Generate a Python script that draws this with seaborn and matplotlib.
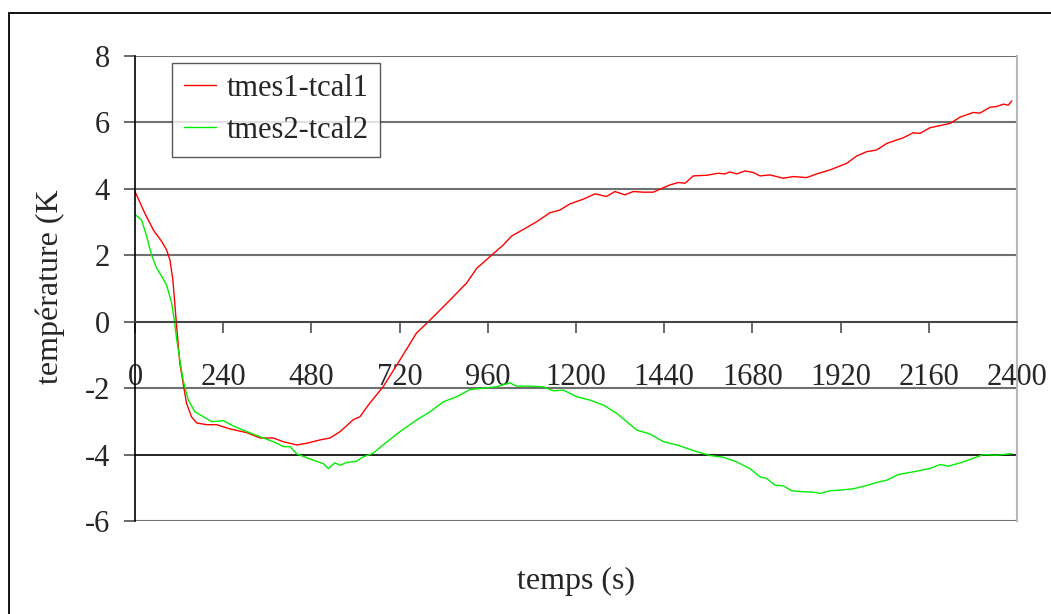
import numpy as np
import pandas as pd
import seaborn as sns
import matplotlib.pyplot as plt
from matplotlib.patches import Rectangle

# temps (s) / ecart de temperature (K), relus sur la figure
t1 = [0, 27, 50, 73, 86, 95, 103, 109, 113, 122, 131, 140, 154, 168, 195, 222, 259, 304,
      340, 376, 403, 440, 467, 503, 531, 558, 594, 612, 639, 675, 721, 766, 803, 857,
      902, 930, 966, 1002, 1025, 1057, 1093, 1129, 1156, 1184, 1220, 1252, 1283, 1306,
      1333, 1356, 1383, 1410, 1433, 1456, 1478, 1497, 1519, 1556, 1587, 1605, 1619,
      1637, 1660, 1683, 1701, 1728, 1764, 1791, 1828, 1855, 1891, 1937, 1964, 1991,
      2018, 2046, 2091, 2118, 2136, 2163, 2218, 2245, 2281, 2299, 2327, 2345, 2363,
      2376, 2386]
tmes1_tcal1 = [3.92, 3.26, 2.76, 2.41, 2.16, 1.86, 1.26, 0.45, -0.1, -1.25, -1.85, -2.45,
               -2.87, -3.05, -3.1, -3.1, -3.23, -3.34, -3.5, -3.5, -3.61, -3.71, -3.66,
               -3.56, -3.5, -3.31, -2.95, -2.86, -2.45, -1.96, -1.15, -0.34, 0.05, 0.65,
               1.16, 1.61, 1.96, 2.31, 2.58, 2.78, 3.01, 3.28, 3.36, 3.55, 3.69, 3.85,
               3.77, 3.92, 3.82, 3.92, 3.9, 3.9, 4.01, 4.12, 4.19, 4.17, 4.39, 4.41, 4.47,
               4.45, 4.51, 4.45, 4.54, 4.49, 4.39, 4.42, 4.32, 4.37, 4.34, 4.45, 4.57,
               4.77, 4.99, 5.12, 5.17, 5.37, 5.54, 5.69, 5.67, 5.84, 5.97, 6.16, 6.3,
               6.28, 6.46, 6.48, 6.55, 6.52, 6.65]

t2 = [0, 18, 32, 45, 59, 73, 86, 100, 107, 113, 122, 131, 145, 163, 186, 209, 240, 268,
      304, 340, 376, 404, 422, 440, 485, 512, 526, 544, 558, 576, 603, 621, 648, 675,
      721, 766, 803, 839, 875, 912, 948, 984, 1020, 1038, 1075, 1111, 1138, 1166, 1202,
      1238, 1275, 1311, 1365, 1401, 1438, 1474, 1528, 1565, 1601, 1637, 1673, 1701,
      1719, 1741, 1764, 1787, 1819, 1846, 1864, 1891, 1918, 1955, 1991, 2018, 2046,
      2077, 2118, 2163, 2191, 2213, 2245, 2272, 2308, 2345, 2386]
tmes2_tcal2 = [3.23, 3.06, 2.56, 2.01, 1.61, 1.36, 1.1, 0.55, 0.05, -0.5, -1.15, -1.76,
               -2.36, -2.71, -2.86, -3.01, -2.98, -3.14, -3.31, -3.46, -3.61, -3.76,
               -3.76, -3.98, -4.17, -4.27, -4.42, -4.25, -4.32, -4.24, -4.2, -4.07, -3.96,
               -3.71, -3.31, -2.96, -2.71, -2.41, -2.26, -2.04, -2.0, -1.96, -1.84, -1.94,
               -1.94, -1.96, -2.08, -2.06, -2.26, -2.36, -2.51, -2.76, -3.26, -3.38,
               -3.61, -3.71, -3.91, -4.03, -4.08, -4.22, -4.42, -4.67, -4.72, -4.92,
               -4.94, -5.09, -5.12, -5.13, -5.17, -5.09, -5.07, -5.03, -4.93, -4.84,
               -4.77, -4.6, -4.52, -4.42, -4.3, -4.35, -4.25, -4.15, -4.0, -4.02, -3.97]

x_ticks = list(range(0, 2401, 240))
y_ticks = list(range(-6, 9, 2))

sns.set_style("white")
plt.rcParams['font.family'] = ['Liberation Serif', 'DejaVu Serif']
plt.rcParams['axes.unicode_minus'] = False

fig = plt.figure(figsize=(10.51, 6.14), dpi=100)
ax = fig.add_axes([135 / 1051, 1 - 521 / 614, 882 / 1051, 465 / 614])

df1 = pd.DataFrame({'t': t1, 'v': tmes1_tcal1})
df2 = pd.DataFrame({'t': t2, 'v': tmes2_tcal2})
sns.lineplot(ax=ax, data=df1, x='t', y='v', color='#ff0000', lw=1.0, label='tmes1-tcal1')
sns.lineplot(ax=ax, data=df2, x='t', y='v', color='#00ee00', lw=1.0, label='tmes2-tcal2')

ax.set_xlim(0, 2400)
ax.set_ylim(-6, 8)
ax.set_xticks(x_ticks)
ax.set_yticks(y_ticks)
ax.set_xlabel('')
ax.set_ylabel('')

# axe des x a y=0, a la Excel
ax.spines['bottom'].set_position(('data', 0))
ax.spines['bottom'].set_color('#404040')
ax.spines['bottom'].set_linewidth(1.3)
ax.spines['left'].set_color('black')
ax.spines['left'].set_linewidth(1.2)
ax.spines['right'].set_color('#b8b8b8')
ax.spines['right'].set_linewidth(1.5)
ax.spines['top'].set_visible(False)

ax.yaxis.grid(True, color='#707070', lw=1.5)
for y, gl in zip(y_ticks, ax.get_ygridlines()):
    if y == -4:
        gl.set_color('black')
        gl.set_linewidth(1.2)

ax.tick_params(axis='x', direction='out', length=8, width=1.2, color='#505050',
               pad=22, labelsize=22)
ax.tick_params(axis='y', direction='out', length=8, width=1.2, color='#505050',
               pad=10, labelsize=22, left=True)
ax.tick_params(axis='x', bottom=True)

ax.legend(loc='upper left', bbox_to_anchor=(0.042, 0.986), borderaxespad=0,
          fontsize=22, frameon=True, fancybox=False, edgecolor='#303030',
          handlelength=1.05, handletextpad=0.35, labelspacing=0.42, borderpad=0.38)
ax.get_legend().get_frame().set_linewidth(1.0)

ax.text(-0.0964, 0.503, 'température (K', transform=ax.transAxes, rotation=90,
        ha='center', va='center', fontsize=23)
ax.text(0.5, -0.131, 'temps (s)', transform=ax.transAxes, ha='center', va='center',
        fontsize=23)

fig.add_artist(Rectangle((9 / 1051, -0.1), 1.2, 1 - 13 / 614 + 0.1,
                         transform=fig.transFigure, fill=False, ec='black', lw=1.3))

fig.savefig('out.png', dpi=100)
